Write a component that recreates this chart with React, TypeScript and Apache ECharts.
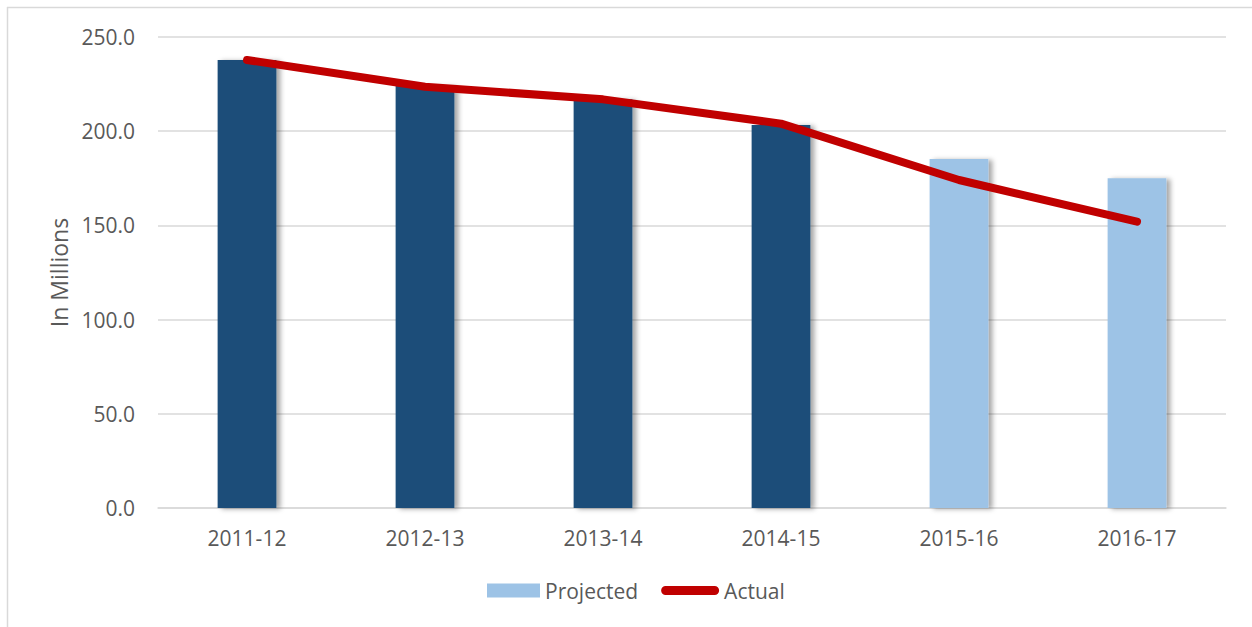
import React, { useEffect, useRef } from "react";
import * as echarts from "echarts";

const categories = ["2011-12", "2012-13", "2013-14", "2014-15", "2015-16", "2016-17"];
const barValues = [237.8, 224.0, 217.0, 203.3, 185.3, 175.0];
const barIsProjected = [false, false, false, false, true, true];
const actualValues = [237.8, 223.6, 216.9, 204.0, 174.1, 152.0];
const yTicks = { min: 0, max: 250, interval: 50 };

const DARK = "#1F4E79";
const LIGHT = "#9DC3E6";
const RED = "#C00000";
const TEXT = "#595959";
const FONT = "Open Sans";

// legend icons: 58 x 14 boxes (invisible zero-area sub-paths fix the bounds)
const PROJ_ICON = "path://M0,0L58,0L58,0.001Z M0,14L58,14L58,14.001Z M5,0H58V14H5Z";
const ACTUAL_ICON =
  "path://M0,0L58,0L58,0.001Z M0,14L58,14L58,14.001Z M4.5,2.5H53.5A4.5,4.5,0,0,1,53.5,11.5H4.5A4.5,4.5,0,0,1,4.5,2.5Z";

export default function App() {
  const ref = useRef<HTMLDivElement>(null);
  useEffect(() => {
    if (!ref.current) return;
    const chart = echarts.init(ref.current, null, { renderer: "svg" });
    chart.setOption({
      animation: false,
      backgroundColor: "#ffffff",
      textStyle: { fontFamily: FONT },
      graphic: [
        { type: "line", shape: { x1: 7, y1: 7.5, x2: 1252, y2: 7.5 }, style: { stroke: "#d9d9d9", lineWidth: 1.5 } },
        { type: "line", shape: { x1: 7.5, y1: 7, x2: 7.5, y2: 627 }, style: { stroke: "#d9d9d9", lineWidth: 1.5 } },
      ],
      grid: { left: 158, right: 26, top: 37, bottom: 119, containLabel: false },
      legend: {
        top: 580,
        left: 482,
        padding: 0,
        itemWidth: 58,
        itemHeight: 14,
        itemGap: 23,
        textStyle: { color: TEXT, fontSize: 21, fontFamily: FONT },
        data: [
          { name: "Projected", icon: PROJ_ICON, itemStyle: { color: LIGHT, borderWidth: 0 } },
          { name: "Actual", icon: ACTUAL_ICON, itemStyle: { color: RED, borderWidth: 0 } },
        ],
      },
      xAxis: {
        type: "category",
        data: categories,
        axisLine: { show: true, lineStyle: { color: "#d9d9d9", width: 1.5 } },
        axisTick: { show: false },
        axisLabel: { color: TEXT, fontSize: 21, margin: 19, fontFamily: FONT },
      },
      yAxis: {
        type: "value",
        min: yTicks.min,
        max: yTicks.max,
        interval: yTicks.interval,
        name: "In Millions",
        nameLocation: "middle",
        nameGap: 86,
        nameTextStyle: { color: TEXT, fontSize: 23, fontFamily: FONT },
        axisLine: { show: false },
        axisTick: { show: false },
        splitLine: { lineStyle: { color: "#d9d9d9", width: 1.5 } },
        axisLabel: {
          color: TEXT,
          fontSize: 21,
          margin: 23,
          fontFamily: FONT,
          formatter: (v: number) => v.toFixed(1),
        },
      },
      series: [
        {
          name: "Projected",
          type: "bar",
          barWidth: "33%",
          itemStyle: {
            color: LIGHT,
            shadowColor: "rgba(0,0,0,0.35)",
            shadowBlur: 5,
            shadowOffsetX: 4,
            shadowOffsetY: 1,
          },
          data: barValues.map((v, i) => ({
            value: v,
            itemStyle: { color: barIsProjected[i] ? LIGHT : DARK },
          })),
        },
        {
          name: "Actual",
          type: "line",
          data: actualValues,
          symbol: "none",
          lineStyle: { color: RED, width: 8, cap: "round", join: "round" },
          itemStyle: { color: RED },
        },
      ],
    });
    return () => chart.dispose();
  }, []);
  return (
    <div
      ref={ref}
      style={{ position: "fixed", left: 0, top: 0, width: 1252, height: 627, background: "#fff" }}
    />
  );
}
